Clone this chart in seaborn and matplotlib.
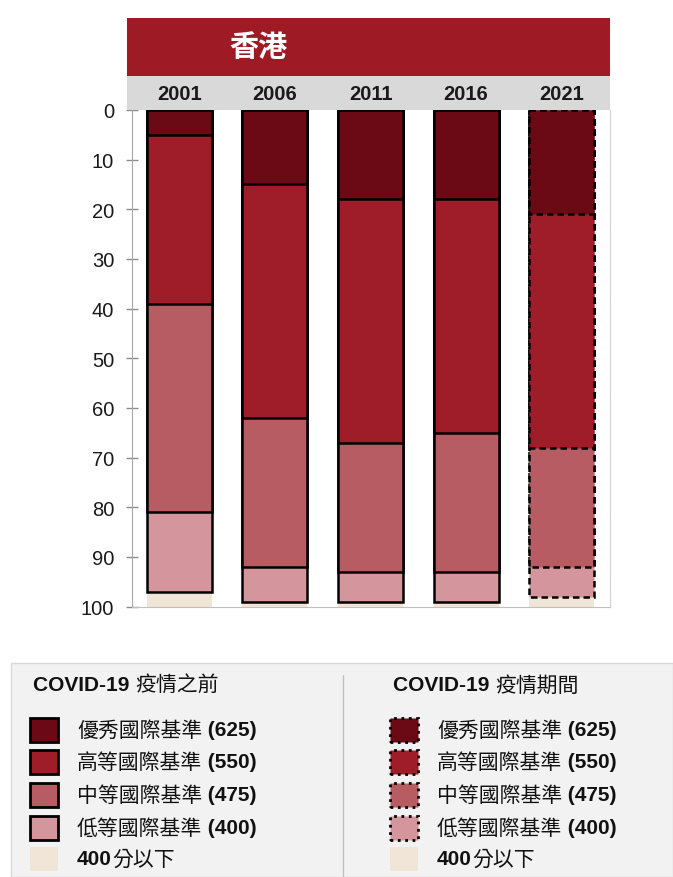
import numpy as np
import matplotlib
matplotlib.use('Agg')
import matplotlib.pyplot as plt
from matplotlib.patches import Rectangle
from matplotlib.lines import Line2D
import seaborn as sns

sns.set_style('white')
plt.rcParams['font.family'] = ['Liberation Sans', 'Noto Sans CJK TC', 'DejaVu Sans']

# 香港 - 各基準學生百分比 (累積由上而下)
years = ['2001', '2006', '2011', '2016', '2021']
adv = [5, 15, 18, 18, 21]      # 優秀國際基準 (625)
high = [34, 47, 49, 47, 47]    # 高等國際基準 (550)
inter = [42, 30, 26, 28, 24]   # 中等國際基準 (475)
low = [16, 7, 6, 6, 6]         # 低等國際基準 (400)
below = [3, 1, 1, 1, 2]        # 400分以下

levels = ['優秀國際基準', '高等國際基準', '中等國際基準', '低等國際基準', '400分以下']
scores = ['(625)', '(550)', '(475)', '(400)', '']
colors = ['#6B0A14', '#9E1D28', '#B85C63', '#D4969C', '#F0E5D6']

W, H = 673, 878
fig = plt.figure(figsize=(W / 100, H / 100), dpi=100)


def fx(px):
    return px / W


def fy(py):
    return 1 - py / H


ax = fig.add_axes([fx(131.5), fy(607.5), fx(609.5) - fx(131.5), fy(111) - fy(607.5)])

# stacked bars: draw longest cumulative bar first
series = [adv, high, inter, low, below]
cum = np.cumsum(np.array(series), axis=0)
for i in range(4, -1, -1):
    n0 = len(ax.patches)
    if i == 4:
        sns.barplot(x=years, y=cum[i], color=colors[i], saturation=1, width=0.68,
                    linewidth=0, ax=ax, zorder=1)
    else:
        sns.barplot(x=years, y=cum[i], color=colors[i], saturation=1, width=0.68,
                    edgecolor='black', linewidth=1.8, ax=ax, zorder=2)
        # 2021 (COVID-19 期間) 用虛線
        ax.patches[n0 + 4].set_linestyle((0, (2.6, 1.6)))

ax.set_ylim(100, 0)
ax.set_xlim(-0.5, 4.5)
ax.set_yticks(range(0, 101, 10))
ax.set_xlabel('')
ax.set_ylabel('')
ax.tick_params(axis='x', bottom=False, labelbottom=False)
ax.tick_params(axis='y', left=True, direction='inout', length=9, width=1,
               color='#8C8C8C', labelsize=14.5, pad=8, labelcolor='#1A1A1A')
ax.spines['top'].set_visible(False)
ax.spines['left'].set_color('#A6A6A6')
ax.spines['bottom'].set_color('#BFBFBF')
ax.spines['right'].set_color('#D0D0D0')

# header bands
fig.add_artist(Rectangle((fx(127), fy(77)), fx(609.5) - fx(127), fy(19) - fy(77),
                         transform=fig.transFigure, facecolor='#9E1B26', edgecolor='none'))
fig.add_artist(Rectangle((fx(127), fy(111)), fx(609.5) - fx(127), fy(77) - fy(111),
                         transform=fig.transFigure, facecolor='#D9D9D9', edgecolor='none'))
fig.text(fx(259), fy(47), '香港', color='white', fontsize=21, fontweight='bold',
         family=['Noto Sans CJK TC'], ha='center', va='center')
for i, yr in enumerate(years):
    xpix = ax.transData.transform((i, 0))[0]
    fig.text(xpix / W, fy(94), yr, ha='center', va='center',
             fontsize=14.5, fontweight='bold', color='#1A1A1A')

# legend panel
fig.add_artist(Rectangle((fx(11), 0), 1 - fx(11), fy(664), transform=fig.transFigure,
                         facecolor='#F2F2F2', edgecolor='#D9D9D9', linewidth=1))
fig.add_artist(Line2D([fx(343), fx(343)], [0, fy(676)], transform=fig.transFigure,
                      color='#BFBFBF', linewidth=1))

renderer = fig.canvas.get_renderer()


def rich_text(x, y, parts, size):
    for s, w in parts:
        t = fig.text(fx(x), fy(y), s, fontsize=size, fontweight=w,
                     ha='left', va='center', color='#111111')
        x += t.get_window_extent(renderer).width


rows = [731, 763, 796, 829, 860]
for col, (x0, title, ls) in enumerate([(30, '疫情之前', '-'), (390, '疫情期間', ':')]):
    rich_text(x0 + 3, 686, [('COVID-19 ', 'bold'), (title, 'normal')], 15)
    for j, yy in enumerate(rows):
        if j < 4:
            fig.add_artist(Rectangle((fx(x0), fy(yy + 12)), fx(28), 24 / H,
                                     transform=fig.transFigure, facecolor=colors[j],
                                     edgecolor='black', linewidth=2, linestyle=ls))
            parts = [(levels[j], 'normal'), (' ' + scores[j], 'bold')]
        else:
            fig.add_artist(Rectangle((fx(x0), fy(yy + 12)), fx(28), 24 / H,
                                     transform=fig.transFigure, facecolor=colors[j],
                                     edgecolor='none'))
            parts = [('400', 'bold'), ('分以下', 'normal')]
        rich_text(x0 + 47, yy, parts, 15)

fig.savefig('out.png', dpi=100)
